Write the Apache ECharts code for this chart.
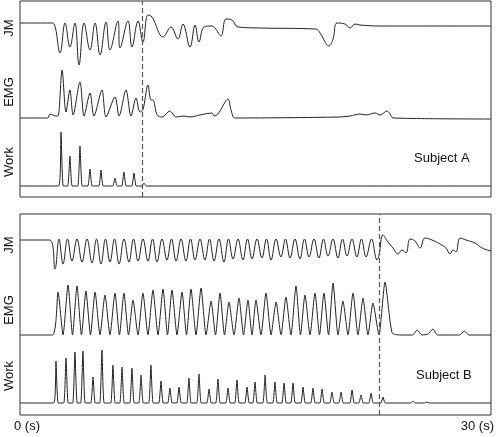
<!DOCTYPE html>
<html>
<head>
<meta charset="utf-8">
<script src="https://cdn.jsdelivr.net/npm/echarts@6/dist/echarts.min.js"></script>
<style>
  body, html { margin: 0; background: #fff; }
  #main { width: 500px; height: 437px; }
</style>
</head>
<body>
<div id="main"></div>
<script>
// time in seconds, values in arbitrary units (baseline = 0)

// Subject A
const jmA = [[0,0],[1.91,0],[2.17,-1],[2.55,-30],[2.87,0],[3.18,-24],[3.50,0],[3.76,-42],[4.08,0],[4.46,-27],[4.78,0],
  [5.10,-32],[5.48,1],[5.73,-27],[6.24,2],[6.37,-25],[6.88,2],[7.13,-24],[7.52,2],[7.83,-19],[8.15,8],[8.41,6],
  [9.11,-14],[9.62,-4],[10.06,-16],[10.38,-1],[10.83,-24],[11.15,-2],[11.40,-19],[11.72,-4],[12.23,-3],[12.42,-5],
  [12.80,-13],[13.12,4],[13.50,3],[13.89,-4],[15.29,-5],[18.85,-6],[19.11,-10],[19.68,-23],[19.94,-16],[20.19,0],
  [20.70,-1],[21.02,-5],[21.34,-1],[21.66,-2],[22.93,-3],[30,-3]];
const emgA = [[0,0],[1.78,0],[1.91,4],[2.29,2],[2.42,2],[2.68,48],[2.93,6],[3.18,28],[3.38,3],[3.82,36],[4.08,2],
  [4.46,25],[4.71,2],[5.22,28],[5.48,1],[6.05,21],[6.31,2],[6.75,28],[7.07,2],[7.39,20],[7.64,6],[7.83,8],[8.15,33],
  [8.34,18],[8.47,18],[8.73,3],[9.04,1],[9.55,7],[9.94,1],[10.45,2],[10.83,1],[11.46,3],[12.23,5],[12.36,2],[12.61,4],
  [13.25,19],[13.44,8],[13.69,0],[20.38,1],[21.02,2],[21.66,4],[22.04,3],[22.61,5],[22.93,3],[23.38,7],[23.57,4],
  [23.76,0],[30,-1]];
const workATimes = [2.61, 3.18, 3.82, 4.46, 5.16, 6.05, 6.62, 7.26, 7.90];
const workAPeaks = [54, 30, 40, 17, 16, 8, 14, 13, 3];
const fatigueA = 7.77;

// Subject B
const jmBTroughTimes = [2.23,2.74,3.31,3.95,4.59,5.16,5.73,6.31,6.94,7.52,8.15,8.73,9.36,9.94,10.57,11.15,11.78,12.36,
  12.99,13.57,14.20,14.78,15.41,15.99,16.62,17.20,17.83,18.41,19.04,19.62,20.25,20.83,21.46,22.04,22.74];
const jmBTroughs = [-29,-24,-21,-22,-23,-24,-22,-24,-22,-21,-21,-22,-20,-21,-21,-20,-20,-21,-22,-19,-20,-19,-18,-20,
  -17,-18,-19,-17,-18,-16,-18,-16,-17,-17,-20];
const jmBAfter = [[23.12,5],[23.44,-2],[23.76,-8],[24.08,-14],[24.33,-10],[24.59,-13],[24.84,1],[25.16,-1],[25.48,-8],
  [25.80,2],[26.24,0],[26.75,-4],[27.13,-8],[27.39,-14],[27.58,-10],[27.77,-12],[28.03,2],[28.41,0],[28.98,-3],
  [29.43,-8],[30,-11]];
const emgBTimes = [2.42,3.06,3.63,4.20,4.78,5.41,6.05,6.62,7.20,7.83,8.47,9.11,9.68,10.32,10.89,11.53,12.17,12.74,
  13.31,13.95,14.52,15.03,15.67,16.31,16.94,17.58,18.15,18.79,19.36,19.94,20.57,21.21,21.85,22.48,23.25];
const emgBPeaks = [43,50,49,44,43,40,42,42,35,42,45,46,45,43,46,47,34,42,33,37,35,35,42,33,38,49,40,42,42,52,34,42,37,32,53];
const emgBAfter = [[23.7,2],[24.2,0],[25.0,0],[25.3,5],[25.6,0],[26.0,1],[26.3,6],[26.6,0],[28.0,0],[28.3,4],[28.6,0],[30,0]];
const workBTimes = [2.29,2.93,3.50,4.01,4.65,5.22,5.92,6.50,7.13,7.71,8.34,8.98,9.55,10.13,10.76,11.40,12.04,12.61,
  13.25,13.82,14.46,14.97,15.61,16.24,16.82,17.39,18.03,18.66,19.24,19.87,20.45,21.15,21.72,22.36,23.12,25.03,25.92];
const workBPeaks = [42,45,51,52,26,53,38,36,35,28,38,22,15,16,25,29,14,24,15,23,16,21,28,21,20,20,16,15,14,11,11,13,
  8,10,6,2,1];
const fatigueB = 22.87;

function spikes(times, peaks, half) {
  const pts = [[0, 0]];
  times.forEach((t, i) => { pts.push([t - half, 0], [t, peaks[i]], [t + half, 0]); });
  pts.push([30, 0]);
  return pts;
}
function bursts(times, peaks, after) {
  const pts = [[0, 0], [times[0] - 0.35, 0]];
  times.forEach((t, i) => {
    pts.push([t, peaks[i]]);
    if (i < times.length - 1) pts.push([(t + times[i + 1]) / 2, 0]);
  });
  return pts.concat(after);
}
function oscill(times, troughs, after) {
  const pts = [[0, 0], [1.9, 0]];
  times.forEach((t, i) => {
    pts.push([t, troughs[i]]);
    if (i < times.length - 1) pts.push([(t + times[i + 1]) / 2, 1]);
  });
  pts.push([22.87, -15]);
  return pts.concat(after);
}

const traces = [
  { data: jmA, top: 0, height: 73, min: -50, max: 23, smooth: 0.4 },
  { data: emgA, top: 60, height: 60, min: -2, max: 58, smooth: 0.3 },
  { data: spikes(workATimes, workAPeaks, 0.14), top: 126, height: 62, min: -2, max: 60, smooth: 0.15 },
  { data: oscill(jmBTroughTimes, jmBTroughs, jmBAfter), top: 214, height: 60, min: -34, max: 26, smooth: 0.4 },
  { data: bursts(emgBTimes, emgBPeaks, emgBAfter), top: 280, height: 58, min: -3, max: 55, smooth: 0.2 },
  { data: spikes(workBTimes, workBPeaks, 0.14), top: 345, height: 60, min: -2, max: 58, smooth: 0.15 }
];

const grids = [], xAxes = [], yAxes = [], series = [];
traces.forEach((tr, i) => {
  grids.push({ left: 20, right: 9, top: tr.top, height: tr.height });
  xAxes.push({ gridIndex: i, type: 'value', min: 0, max: 30, show: false });
  yAxes.push({ gridIndex: i, type: 'value', min: tr.min, max: tr.max, show: false });
  series.push({
    type: 'line', xAxisIndex: i, yAxisIndex: i, data: tr.data, smooth: tr.smooth,
    showSymbol: false, silent: true, clip: false,
    lineStyle: { color: '#222', width: 1 }
  });
});

// panel frames with the dashed fatigue lines
[[1, 196, fatigueA], [214, 201, fatigueB]].forEach(([top, h, f], k) => {
  const gi = grids.length;
  grids.push({ left: 20, right: 9, top: top, height: h, show: true, borderColor: '#333', borderWidth: 1, backgroundColor: 'transparent' });
  xAxes.push({ gridIndex: gi, type: 'value', min: 0, max: 30, show: false });
  yAxes.push({ gridIndex: gi, type: 'value', min: 0, max: 1, show: false });
  series.push({
    type: 'line', xAxisIndex: gi, yAxisIndex: gi, data: [], silent: true,
    markLine: {
      symbol: 'none', silent: true, label: { show: false },
      lineStyle: { color: '#555', type: [5, 3], width: 1.2 },
      data: [{ xAxis: f }]
    }
  });
});

const font = '13px "Liberation Sans", Arial, sans-serif';
function yLabel(text, y) {
  return { type: 'text', x: 9, y: y, rotation: Math.PI / 2,
    style: { text: text, font: font, fill: '#111', align: 'center', verticalAlign: 'middle' } };
}

const chart = echarts.init(document.getElementById('main'));
chart.setOption({
  animation: false,
  grid: grids, xAxis: xAxes, yAxis: yAxes, series: series,
  graphic: [
    yLabel('JM', 28), yLabel('EMG', 92), yLabel('Work', 162),
    yLabel('JM', 245), yLabel('EMG', 310), yLabel('Work', 376),
    { type: 'text', x: 414, y: 152, style: { text: 'Subject A', font: font, fill: '#111' } },
    { type: 'text', x: 416, y: 369, style: { text: 'Subject B', font: font, fill: '#111' } },
    { type: 'text', x: 14, y: 420, style: { text: '0 (s)', font: font, fill: '#111' } },
    { type: 'text', x: 494, y: 420, style: { text: '30 (s)', font: font, fill: '#111', align: 'right' } }
  ]
});
</script>
</body>
</html>
